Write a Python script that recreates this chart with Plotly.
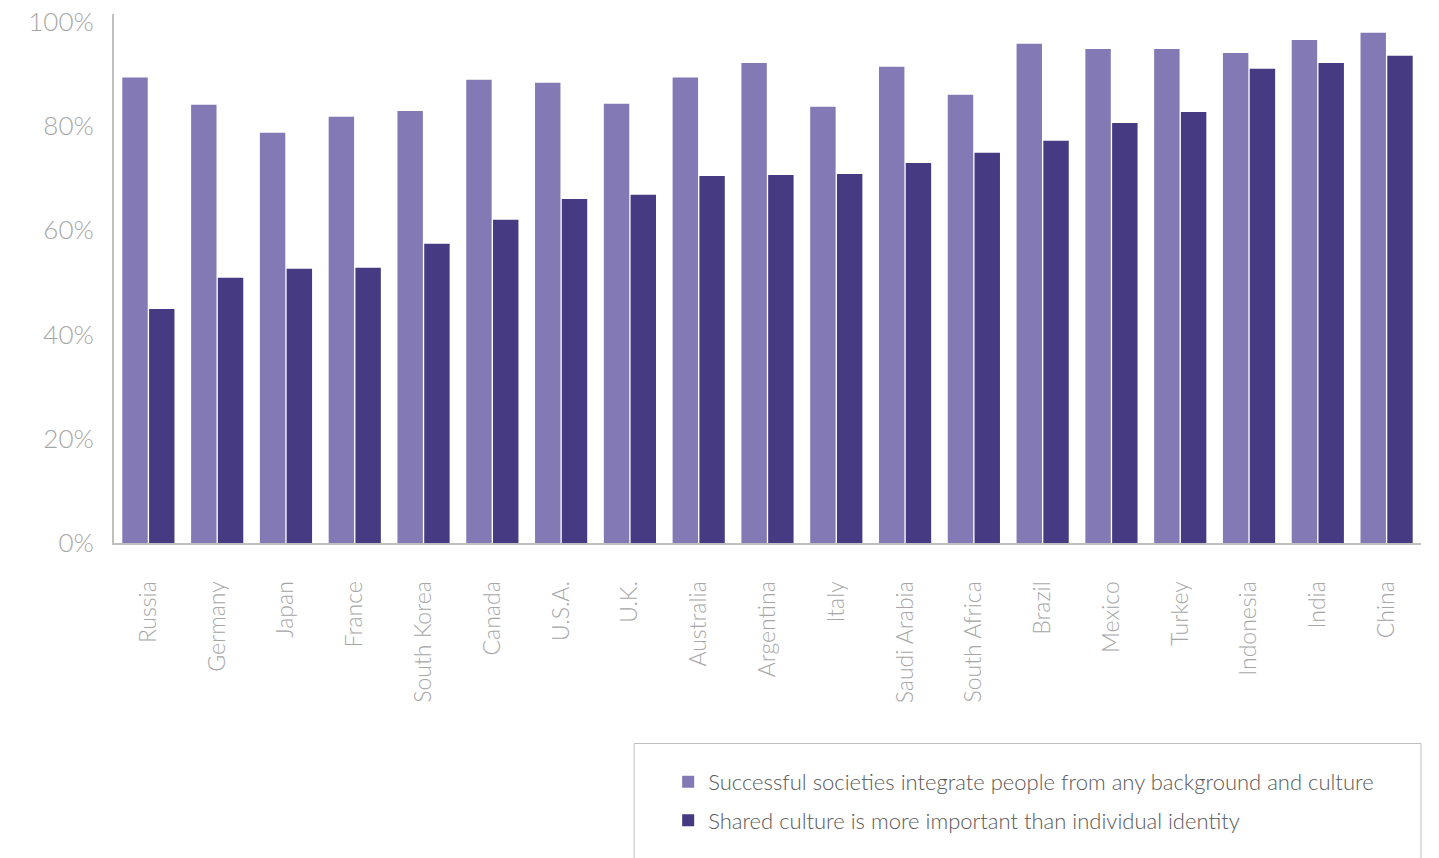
import plotly.graph_objects as go

countries = ["Russia", "Germany", "Japan", "France", "South Korea", "Canada", "U.S.A.",
             "U.K.", "Australia", "Argentina", "Italy", "Saudi Arabia", "South Africa",
             "Brazil", "Mexico", "Turkey", "Indonesia", "India", "China"]

integrate_pct = [89.3, 84.1, 78.7, 81.8, 82.9, 88.9, 88.3, 84.3, 89.3, 92.1,
                 83.7, 91.4, 86.0, 95.8, 94.8, 94.8, 94.0, 96.5, 97.9]

shared_culture_pct = [44.9, 50.9, 52.6, 52.8, 57.4, 62.0, 66.0, 66.8, 70.4, 70.6,
                      70.8, 72.9, 74.9, 77.2, 80.6, 82.7, 91.0, 92.1, 93.5]

series_names = ["Successful societies integrate people from any background and culture",
                "Shared culture is more important than individual identity"]

y_tickvals = [0, 20, 40, 60, 80, 100]
y_ticktext = ["0%", "20%", "40%", "60%", "80%", "100%"]

LIGHT = "#8379b5"
DARK = "#463a83"
GREY_TXT = "#a6a6a6"
AXIS = "#bfbfbf"
FONT = "Lato, 'Open Sans', sans-serif"

fig = go.Figure()
fig.add_trace(go.Bar(x=countries, y=integrate_pct, name=series_names[0],
                     marker=dict(color=LIGHT, line=dict(width=0)),
                     legendgroup="a"))
fig.add_trace(go.Bar(x=countries, y=shared_culture_pct, name=series_names[1],
                     marker=dict(color=DARK, line=dict(width=0)),
                     legendgroup="b"))

# frame drawn around the legend
fig.add_shape(type="rect", xref="paper", yref="paper",
              x0=0.398, x1=1.0, y0=-0.379, y1=-0.64,
              line=dict(color=AXIS, width=1), fillcolor="rgba(0,0,0,0)")

fig.update_layout(
    width=1439, height=858,
    margin=dict(l=114, r=18, t=14, b=315),
    paper_bgcolor="white", plot_bgcolor="white",
    barmode="group", bargap=0.222, bargroupgap=0.05,
    font=dict(family=FONT, color=GREY_TXT),
    showlegend=True,
    legend=dict(x=0.424, y=-0.412, xanchor="left", yanchor="top",
                orientation="v", tracegroupgap=7,
                font=dict(size=22, color="#595959", family=FONT, weight=300),
                bgcolor="rgba(0,0,0,0)", borderwidth=0),
    xaxis=dict(
        automargin=False,
        showline=True, linecolor=AXIS, linewidth=2,
        showgrid=False, zeroline=False,
        tickangle=-90, ticks="", ticklabelstandoff=27,
        tickfont=dict(size=23, color=GREY_TXT, family=FONT, weight=300),
    ),
    yaxis=dict(
        automargin=False,
        range=[0, 101.5],
        showline=True, linecolor=AXIS, linewidth=2,
        showgrid=False, zeroline=False,
        tickvals=y_tickvals, ticktext=y_ticktext,
        ticks="", ticklabelstandoff=13,
        tickfont=dict(size=26, color=GREY_TXT, family=FONT, weight=300),
    ),
)

fig.write_html("out.html")
